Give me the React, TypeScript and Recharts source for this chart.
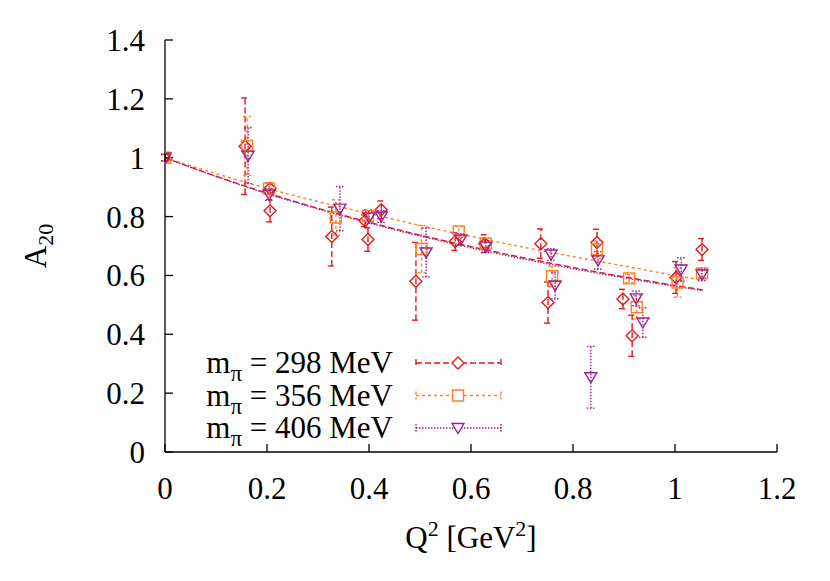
import React from 'react';
import { ComposedChart, Scatter, Line, XAxis, YAxis, ErrorBar } from 'recharts';

const FONT = '"Liberation Serif", "Times New Roman", serif';
const RED = '#e3191c';
const ORANGE = '#ff7f27';
const PURPLE = '#9c1f8c';

const xTicks = [0, 0.2, 0.4, 0.6, 0.8, 1, 1.2];
const yTicks = [0, 0.2, 0.4, 0.6, 0.8, 1, 1.2, 1.4];

const legendLabels = ['298', '356', '406'];

// m_pi = 298 MeV
const q2_298 = [0, 0.157, 0.206, 0.206, 0.327, 0.392, 0.398, 0.424, 0.492, 0.569, 0.627, 0.737, 0.751, 0.847, 0.898, 0.916, 1.002, 1.053];
const a20_298 = [1.0, 1.039, 0.895, 0.82, 0.732, 0.786, 0.722, 0.823, 0.58, 0.715, 0.708, 0.708, 0.508, 0.712, 0.52, 0.395, 0.593, 0.688];
const err_298 = [0.012, 0.164, 0.02, 0.038, 0.1, 0.02, 0.04, 0.03, 0.132, 0.03, 0.03, 0.05, 0.07, 0.045, 0.033, 0.07, 0.054, 0.037];

// m_pi = 356 MeV
const q2_356 = [0, 0.161, 0.204, 0.335, 0.398, 0.503, 0.576, 0.629, 0.759, 0.847, 0.91, 0.925, 1.005, 1.053];
const a20_356 = [1.0, 1.04, 0.895, 0.797, 0.803, 0.69, 0.749, 0.708, 0.597, 0.688, 0.59, 0.492, 0.576, 0.607];
const err_356 = [0.012, 0.1, 0.02, 0.06, 0.02, 0.08, 0.02, 0.02, 0.035, 0.03, 0.015, 0.04, 0.05, 0.015];

// m_pi = 406 MeV
const q2_406 = [0, 0.163, 0.204, 0.343, 0.4, 0.424, 0.512, 0.58, 0.629, 0.757, 0.765, 0.835, 0.849, 0.924, 0.937, 1.012, 1.053];
const a20_406 = [1.0, 1.007, 0.875, 0.827, 0.797, 0.8, 0.678, 0.722, 0.698, 0.671, 0.566, 0.254, 0.651, 0.522, 0.44, 0.62, 0.603];
const err_406 = [0.01, 0.095, 0.02, 0.075, 0.02, 0.02, 0.083, 0.02, 0.02, 0.02, 0.045, 0.105, 0.03, 0.025, 0.05, 0.04, 0.02];

// fit curves
const fitX_298 = [0, 0.1, 0.2, 0.3, 0.4, 0.5, 0.6, 0.7, 0.8, 0.9, 1.0, 1.055];
const fitY_298 = [1.0, 0.937, 0.88, 0.828, 0.781, 0.737, 0.698, 0.661, 0.627, 0.595, 0.566, 0.551];
const fitX_356 = [0, 0.1, 0.2, 0.3, 0.4, 0.5, 0.6, 0.7, 0.8, 0.9, 1.0, 1.05];
const fitY_356 = [1.0, 0.946, 0.896, 0.851, 0.81, 0.77, 0.733, 0.697, 0.664, 0.632, 0.6, 0.585];
const fitX_406 = [0, 0.1, 0.2, 0.3, 0.4, 0.5, 0.6, 0.7, 0.8, 0.9, 1.0, 1.055];
const fitY_406 = [1.0, 0.936, 0.878, 0.826, 0.778, 0.734, 0.694, 0.657, 0.623, 0.592, 0.563, 0.548];

const zipPts = (xs: number[], ys: number[], es: number[]) => xs.map((x, i) => ({ x, y: ys[i], err: es[i] }));
const zipFit = (xs: number[], ys: number[]) => xs.map((x, i) => ({ x, y: ys[i] }));

const pts298 = zipPts(q2_298, a20_298, err_298);
const pts356 = zipPts(q2_356, a20_356, err_356);
const pts406 = zipPts(q2_406, a20_406, err_406);
const fit298 = zipFit(fitX_298, fitY_298);
const fit356 = zipFit(fitX_356, fitY_356);
const fit406 = zipFit(fitX_406, fitY_406);

const SW = 1.4;

const diamondPath = (cx: number, cy: number) => `M${cx},${cy - 6}L${cx + 6},${cy}L${cx},${cy + 6}L${cx - 6},${cy}Z`;
const squarePath = (cx: number, cy: number) => `M${cx - 5.5},${cy - 5.5}h11v11h-11Z`;
const triPath = (cx: number, cy: number) => `M${cx - 6},${cy - 4.5}L${cx + 6},${cy - 4.5}L${cx},${cy + 5.5}Z`;

const makeShape = (pathFn: (cx: number, cy: number) => string, color: string) => (props: any) => {
  const { cx, cy } = props;
  if (cx == null || cy == null) return <g />;
  return <path d={pathFn(cx, cy)} fill="none" stroke={color} strokeWidth={SW} />;
};

const series = [
  { pts: pts298, fit: fit298, color: RED, dash: '6 3', path: diamondPath },
  { pts: pts356, fit: fit356, color: ORANGE, dash: '3 3', path: squarePath },
  { pts: pts406, fit: fit406, color: PURPLE, dash: '1.5 1.5', path: triPath },
];

const XTick = (props: any) => {
  const { x, y, payload } = props;
  return (
    <text x={x} y={y} dy="0.71em" textAnchor="middle" fontFamily={FONT} fontSize={31} fill="#000">
      {String(payload.value)}
    </text>
  );
};

const YTick = (props: any) => {
  const { x, y, payload } = props;
  return (
    <text x={x} y={y} dy="0.355em" textAnchor="end" fontFamily={FONT} fontSize={31} fill="#000">
      {String(payload.value)}
    </text>
  );
};

const YLabel = (props: any) => {
  const vb = props.viewBox || { x: 0, y: 0, width: 0, height: 0 };
  const x = vb.x - 59;
  const y = vb.y + vb.height / 2;
  return (
    <text x={x} y={y} transform={`rotate(-90 ${x} ${y})`} textAnchor="middle" fontFamily={FONT} fontSize={31} fill="#000">
      A<tspan dy={7} fontSize={22}>20</tspan>
    </text>
  );
};

const XLabel = (props: any) => {
  const vb = props.viewBox || { x: 0, y: 0, width: 0, height: 0 };
  const x = vb.x + vb.width / 2;
  const y = vb.y + 96;
  return (
    <text x={x} y={y} textAnchor="middle" fontFamily={FONT} fontSize={31} fill="#000">
      Q<tspan dy={-12} fontSize={22}>2</tspan>
      <tspan dy={12}> [GeV</tspan>
      <tspan dy={-12} fontSize={22}>2</tspan>
      <tspan dy={12}>]</tspan>
    </text>
  );
};

const LegendBox = () => (
  <svg width={330} height={110} style={{ position: 'absolute', left: 182, top: 337 }}>
    {series.map((s, i) => {
      const cy = 18 + 32.5 * i;
      return (
        <g key={i}>
          <text x={203} y={cy + 10} textAnchor="end" fontFamily={FONT} fontSize={31} fill="#000">
            m<tspan dy={8} fontSize={23}>π</tspan>
            <tspan dy={-8}>{` = ${legendLabels[i]} MeV`}</tspan>
          </text>
          <line x1={226} x2={311} y1={cy} y2={cy} stroke={s.color} strokeWidth={SW} strokeDasharray={s.dash} />
          <line x1={226} x2={226} y1={cy - 4} y2={cy + 4} stroke={s.color} strokeWidth={SW} strokeDasharray={s.dash} />
          <line x1={311} x2={311} y1={cy - 4} y2={cy + 4} stroke={s.color} strokeWidth={SW} strokeDasharray={s.dash} />
          <path d={s.path(268, cy)} fill="#fff" stroke={s.color} strokeWidth={SW} />
        </g>
      );
    })}
  </svg>
);

export default function App() {
  return (
    <div style={{ position: 'relative', width: 822, height: 573, fontFamily: FONT }}>
      <ComposedChart width={822} height={573} margin={{ top: 32, right: 53, bottom: 69, left: 97 }}>
        <XAxis
          dataKey="x"
          type="number"
          domain={[0, 1.2]}
          ticks={xTicks}
          height={60}
          tickSize={-8}
          tickMargin={33}
          tick={<XTick />}
          stroke="#000"
          strokeWidth={1.3}
          label={<XLabel />}
          allowDataOverflow
        />
        <XAxis
          xAxisId="top"
          orientation="top"
          dataKey="x"
          type="number"
          domain={[0, 1.2]}
          ticks={xTicks}
          height={0}
          tickSize={-8}
          tickFormatter={() => ''}
          stroke="#000"
          strokeWidth={1.3}
          allowDataOverflow
        />
        <YAxis
          dataKey="y"
          type="number"
          domain={[0, 1.4]}
          ticks={yTicks}
          width={60}
          tickSize={-8}
          tickMargin={28}
          tick={<YTick />}
          stroke="#000"
          strokeWidth={1.3}
          label={<YLabel />}
          allowDataOverflow
        />
        <YAxis
          yAxisId="right"
          orientation="right"
          dataKey="y"
          type="number"
          domain={[0, 1.4]}
          ticks={yTicks}
          width={0}
          tickSize={-8}
          tickFormatter={() => ''}
          stroke="#000"
          strokeWidth={1.3}
          allowDataOverflow
        />
        {series.map((s, i) => (
          <Line
            key={`fit${i}`}
            data={s.fit}
            dataKey="y"
            type="monotone"
            dot={false}
            activeDot={false}
            stroke={s.color}
            strokeWidth={SW}
            strokeDasharray={s.dash}
            isAnimationActive={false}
          />
        ))}
        {series.map((s, i) => (
          <Scatter
            key={`pts${i}`}
            data={s.pts}
            dataKey="y"
            shape={makeShape(s.path, s.color)}
            isAnimationActive={false}
          >
            <ErrorBar dataKey="err" direction="y" width={4} stroke={s.color} strokeWidth={SW} strokeDasharray={s.dash} isAnimationActive={false} />
          </Scatter>
        ))}
      </ComposedChart>
      <LegendBox />
    </div>
  );
}
